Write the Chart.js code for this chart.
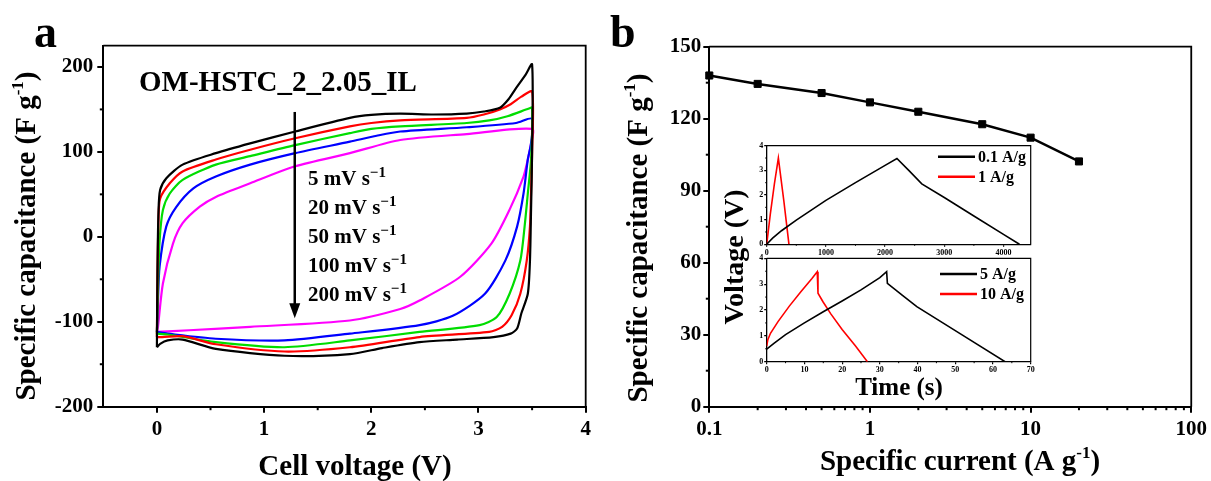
<!DOCTYPE html>
<html>
<head>
<meta charset="utf-8">
<title>CV loops and rate capability</title>
<script src="https://cdn.jsdelivr.net/npm/chart.js@4.4.1/dist/chart.umd.min.js"></script>
<style>
  html, body { margin: 0; padding: 0; background: #fff; }
  #wrap { position: relative; width: 1211px; height: 481px; overflow: hidden; background: #fff; }
  #wrap canvas { position: absolute; }
</style>
</head>
<body>
<div id="wrap">
  <canvas id="cvChart" width="600" height="481" style="left:0;top:0"></canvas>
  <canvas id="rateChart" width="611" height="481" style="left:600px;top:0"></canvas>
  <canvas id="gcdSlow" width="300" height="122" style="left:740px;top:135px"></canvas>
  <canvas id="gcdFast" width="300" height="125" style="left:740px;top:250px"></canvas>
</div>
<script>
// ---- panel a: CV loops (cell voltage in V, specific capacitance in F/g) ----
const scanRates = ['5', '20', '50', '100', '200'];

const cv5V = [0, 0.005, 0.015, 0.03, 0.088, 0.24, 0.55, 0.87, 1.29, 1.8, 2.0, 2.27, 2.58, 2.89, 3.05, 3.2, 3.28, 3.35, 3.44, 3.5,
  3.5, 3.49, 3.48, 3.46, 3.4, 3.36, 3.3, 3.14, 2.8, 2.45, 2.1, 1.8, 1.19, 0.55, 0.24, 0.1, 0.03, 0];
const cv5C = [-130, -40, 30, 55, 69, 85, 98.5, 110, 124, 140, 143.5, 145, 144, 145, 147.5, 152, 162, 175, 191, 203,
  100, 30, -28, -67, -90, -108, -114, -118, -121, -124, -131, -138, -140, -132, -121, -122, -126, -130];

const cv20V = [0, 0.005, 0.015, 0.03, 0.12, 0.24, 0.55, 0.87, 1.29, 1.8, 2.0, 2.27, 2.89, 3.05, 3.2, 3.3, 3.4, 3.5,
  3.5, 3.49, 3.48, 3.45, 3.39, 3.31, 3.22, 3.1, 2.45, 1.8, 1.19, 0.55, 0.24, 0.05, 0];
const cv20C = [-118, -50, 20, 45, 63, 77, 91, 102.5, 116, 130, 134, 137, 140, 144, 150, 156, 165, 171,
  100, 52, 12, -28, -67, -92, -106, -112, -118, -130, -135, -126.5, -117, -118, -118];

const cv50V = [0, 0.01, 0.025, 0.056, 0.12, 0.24, 0.55, 0.87, 1.29, 1.8, 2.0, 2.27, 2.89, 3.1, 3.27, 3.47, 3.5,
  3.49, 3.46, 3.43, 3.39, 3.29, 3.17, 3.01, 2.45, 1.8, 1.19, 0.55, 0.1, 0];
const cv50C = [-114, -60, -5, 31.5, 51, 67, 85, 95, 108, 122, 127, 130, 134, 137, 142, 151, 152,
  91, 51, 12, -28, -67, -94.5, -104, -112, -122, -130, -124, -115, -114];

const cv100V = [0, 0.01, 0.025, 0.087, 0.18, 0.34, 0.55, 0.87, 1.29, 1.8, 2.05, 2.27, 2.89, 3.35, 3.5,
  3.49, 3.46, 3.42, 3.36, 3.25, 3.06, 2.76, 2.45, 1.8, 1.19, 0.55, 0.1, 0];
const cv100C = [-112, -75, -35, 12, 35, 57, 71, 85, 98.5, 112, 119, 124, 129, 134, 139,
  110, 91, 51, 12, -28, -67, -93, -104, -114, -122, -120, -114, -112];

const cv200V = [0, 0.01, 0.056, 0.15, 0.24, 0.4, 0.55, 0.87, 1.29, 1.8, 2.27, 2.89, 3.5,
  3.49, 3.46, 3.42, 3.29, 3.12, 2.83, 2.45, 2.27, 1.8, 0.87, 0.3, 0];
const cv200C = [-112, -106, -55, -8, 16, 35.5, 47, 63, 83, 98.5, 114, 121, 127,
  110, 91, 71, 32, -8, -47, -75, -85, -98.5, -106, -110, -112];

const voltTicks = [0, 1, 2, 3, 4];
const voltMinor = [0.5, 1.5, 2.5, 3.5];
const capTicksA = [-200, -100, 0, 100, 200];
const capMinorA = [-150, -50, 50, 150];

// ---- panel b: rate capability ----
const currents = [0.1, 0.2, 0.5, 1, 2, 5, 10, 20];
const capacitance = [138, 134.5, 130.7, 126.8, 122.9, 117.7, 112.1, 102.2];
const currentTicks = [0.1, 1, 10, 100];
const currentMinor = [0.2, 0.3, 0.4, 0.5, 0.6, 0.7, 0.8, 0.9, 2, 3, 4, 5, 6, 7, 8, 9, 20, 30, 40, 50, 60, 70, 80, 90];
const capTicksB = [0, 30, 60, 90, 120, 150];
const capMinorB = [15, 45, 75, 105, 135];

// ---- inset: charge/discharge curves (time in s, voltage in V) ----
const t01 = [0, 100, 250, 500, 1000, 1500, 2000, 2200, 2400, 2620, 3000, 3500, 4000, 4270];
const v01 = [0, 0.25, 0.55, 0.98, 1.78, 2.5, 3.2, 3.48, 3.0, 2.45, 1.9, 1.15, 0.4, 0];
const t1 = [0, 60, 130, 197, 290, 376];
const v1 = [0, 1.2, 2.45, 3.5, 1.75, 0];
const t5 = [0, 2, 5, 10, 15, 20, 25, 30, 31.8, 32, 36, 39.8, 50, 63.2];
const v5 = [0.49, 0.72, 1.05, 1.5, 1.93, 2.35, 2.78, 3.25, 3.48, 3.03, 2.57, 2.13, 1.2, 0];
const t10 = [0, 0.3, 1, 3, 6, 9, 12, 13.4, 13.6, 15, 17, 20, 23.5, 26.7];
const v10 = [0.6, 0.85, 1.1, 1.55, 2.15, 2.7, 3.22, 3.48, 2.65, 2.3, 1.85, 1.25, 0.62, 0];
const slowTimeTicks = [0, 1000, 2000, 3000, 4000];
const fastTimeTicks = [0, 10, 20, 30, 40, 50, 60, 70];
const insetVoltTicks = [0, 1, 2, 3, 4];

const SERIF = '"Liberation Serif", "Times New Roman", serif';
const cvColors = ['#000000', '#ff0000', '#00dd00', '#0000ff', '#ff00ff'];

const toPoints = (xs, ys) => xs.map((x, i) => ({ x: x, y: ys[i] }));
const fixedTicks = (vals) => (scale) => { scale.ticks = vals.map(v => ({ value: v })); };

// text with an optional raised part, e.g. "F g" + "-1"
function drawRich(ctx, item) {
  const size = item.size;
  const mainFont = `bold ${size}px ${SERIF}`;
  const supFont = `bold ${Math.round(size * (item.supScale || 0.58))}px ${SERIF}`;
  let total = 0;
  const widths = item.parts.map(p => {
    ctx.font = p.sup ? supFont : mainFont;
    const w = ctx.measureText(p.t).width;
    total += w;
    return w;
  });
  ctx.save();
  ctx.translate(item.x, item.y);
  if (item.rotate) ctx.rotate(item.rotate);
  let x = item.align === 'center' ? -total / 2 : 0;
  ctx.fillStyle = '#000';
  ctx.textAlign = 'left';
  ctx.textBaseline = item.baseline || 'alphabetic';
  item.parts.forEach((p, i) => {
    ctx.font = p.sup ? supFont : mainFont;
    ctx.fillText(p.t, x, p.sup ? -size * (item.supRaise || 0.42) : 0);
    x += widths[i];
  });
  ctx.restore();
}

// top/right frame lines, minor ticks, free text and legend keys
const decorations = {
  id: 'decorations',
  afterDraw(chart, args, opts) {
    const { ctx, chartArea: a, scales } = chart;
    ctx.save();
    ctx.strokeStyle = '#000';
    ctx.lineWidth = opts.frameWidth;
    ctx.beginPath();
    ctx.moveTo(a.left, a.top);
    ctx.lineTo(a.right, a.top);
    ctx.lineTo(a.right, a.bottom);
    ctx.stroke();
    ctx.lineWidth = opts.minorWidth;
    (opts.xMinor || []).forEach(v => {
      const px = scales.x.getPixelForValue(v);
      ctx.beginPath();
      ctx.moveTo(px, a.bottom);
      ctx.lineTo(px, a.bottom + opts.minorLen);
      ctx.stroke();
    });
    (opts.yMinor || []).forEach(v => {
      const py = scales.y.getPixelForValue(v);
      ctx.beginPath();
      ctx.moveTo(a.left, py);
      ctx.lineTo(a.left - opts.minorLen, py);
      ctx.stroke();
    });
    (opts.keys || []).forEach(k => {
      ctx.strokeStyle = k.color;
      ctx.lineWidth = 2.5;
      ctx.beginPath();
      ctx.moveTo(k.x1, k.y);
      ctx.lineTo(k.x2, k.y);
      ctx.stroke();
      ctx.fillStyle = '#000';
      ctx.font = `bold ${k.size}px ${SERIF}`;
      ctx.textBaseline = 'middle';
      ctx.textAlign = 'left';
      ctx.fillText(k.label, k.x2 + 3, k.y + 1);
    });
    if (opts.arrow) {
      const ar = opts.arrow;
      const x = scales.x.getPixelForValue(ar.x);
      const y0 = scales.y.getPixelForValue(ar.from);
      const y1 = scales.y.getPixelForValue(ar.to);
      ctx.strokeStyle = '#000';
      ctx.fillStyle = '#000';
      ctx.lineWidth = 2.5;
      ctx.beginPath();
      ctx.moveTo(x, y0);
      ctx.lineTo(x, y1 - 12);
      ctx.stroke();
      ctx.beginPath();
      ctx.moveTo(x - 5.5, y1 - 15);
      ctx.lineTo(x + 5.5, y1 - 15);
      ctx.lineTo(x, y1);
      ctx.closePath();
      ctx.fill();
    }
    ctx.restore();
    (opts.texts || []).forEach(t => drawRich(ctx, t));
  }
};

const axisStyle = (tickLen, pad, size) => ({
  grid: { drawOnChartArea: false, drawTicks: true, tickLength: tickLen, color: '#000', lineWidth: tickLen > 3 ? 2 : 1.2 },
  border: { display: true, color: '#000', width: tickLen > 3 ? 2 : 1.3 },
  ticks: { color: '#000', padding: pad, font: { family: SERIF, size: size, weight: 'bold' },
    callback: (v) => String(v) }
});

// ---- panel a ----
const cvSeries = [[cv5V, cv5C], [cv20V, cv20C], [cv50V, cv50C], [cv100V, cv100C], [cv200V, cv200C]];

new Chart(document.getElementById('cvChart'), {
  type: 'scatter',
  data: {
    datasets: cvSeries.map((s, i) => ({
      label: scanRates[i] + ' mV s-1',
      data: toPoints(s[0], s[1]),
      showLine: true,
      borderColor: cvColors[i],
      backgroundColor: cvColors[i],
      borderWidth: 2.2,
      pointRadius: 0,
      tension: 0.25,
      fill: false
    }))
  },
  options: {
    responsive: false,
    animation: false,
    events: [],
    layout: { padding: { top: 45.7, right: 14.3, left: 0, bottom: 0 } },
    plugins: {
      legend: { display: false },
      tooltip: { enabled: false },
      decorations: {
        frameWidth: 1.8, minorWidth: 2, minorLen: 3.5,
        xMinor: voltMinor, yMinor: capMinorA,
        arrow: { x: 1.286, from: 147, to: -96 },
        texts: [
          { parts: [{ t: 'a' }], x: 34, y: 47, size: 46 },
          { parts: [{ t: 'OM-HSTC_2_2.05_IL' }], x: 139, y: 91, size: 29 },
          ...scanRates.map((r, i) => ({
            parts: [{ t: r + ' mV s' }, { t: '\u22121', sup: true }],
            x: 308, y: 185 + i * 29, size: 21, supScale: 0.72, supRaise: 0.38
          })),
          { parts: [{ t: 'Specific capacitance (F g' }, { t: '-1', sup: true }, { t: ')' }],
            x: 35, y: 236, size: 29, align: 'center', rotate: -Math.PI / 2 },
          { parts: [{ t: 'Cell voltage (V)' }], x: 355, y: 475, size: 29, align: 'center' }
        ]
      }
    },
    scales: {
      x: {
        type: 'linear', min: -0.5, max: 4,
        afterBuildTicks: fixedTicks(voltTicks),
        afterFit: (s) => { s.height = 74.3; },
        ...axisStyle(6, 4, 21)
      },
      y: {
        type: 'linear', min: -200, max: 225,
        afterBuildTicks: fixedTicks(capTicksA),
        afterFit: (s) => { s.width = 103.3; },
        ...axisStyle(6, 4, 21)
      }
    }
  },
  plugins: [decorations]
});

// ---- panel b ----
new Chart(document.getElementById('rateChart'), {
  type: 'line',
  data: {
    datasets: [{
      data: toPoints(currents, capacitance),
      borderColor: '#000',
      backgroundColor: '#000',
      borderWidth: 2.5,
      pointStyle: 'rect',
      pointRadius: 5,
      pointBorderWidth: 1,
      tension: 0,
      clip: false
    }]
  },
  options: {
    responsive: false,
    animation: false,
    events: [],
    layout: { padding: { top: 46.7, right: 19.3, left: 0, bottom: 0 } },
    plugins: {
      legend: { display: false },
      tooltip: { enabled: false },
      decorations: {
        frameWidth: 1.8, minorWidth: 2, minorLen: 3.5,
        xMinor: currentMinor, yMinor: capMinorB,
        texts: [
          { parts: [{ t: 'b' }], x: 10, y: 47, size: 46 },
          { parts: [{ t: 'Specific capacitance (F g' }, { t: '-1', sup: true }, { t: ')' }],
            x: 47, y: 238, size: 29, align: 'center', rotate: -Math.PI / 2 },
          { parts: [{ t: 'Specific current (A g' }, { t: '-1', sup: true }, { t: ')' }],
            x: 360, y: 470, size: 29, align: 'center' },
          { parts: [{ t: 'Voltage (V)' }], x: 143, y: 257, size: 28, align: 'center', rotate: -Math.PI / 2 },
          { parts: [{ t: 'Time (s)' }], x: 299, y: 395, size: 25, align: 'center' }
        ]
      }
    },
    scales: {
      x: {
        type: 'logarithmic', min: 0.1, max: 100,
        afterBuildTicks: fixedTicks(currentTicks),
        afterFit: (s) => { s.height = 74.3; },
        ...axisStyle(6, 4, 21)
      },
      y: {
        type: 'linear', min: 0, max: 150,
        afterBuildTicks: fixedTicks(capTicksB),
        afterFit: (s) => { s.width = 109.3; },
        ...axisStyle(6, 2, 21)
      }
    }
  },
  plugins: [decorations]
});

// ---- inset charts ----
function insetChart(id, series, timeMax, timeTicks, timeMinor, padTop, xHeight, keys) {
  return new Chart(document.getElementById(id), {
    type: 'scatter',
    data: {
      datasets: series.map(s => ({
        data: toPoints(s.t, s.v),
        showLine: true,
        borderColor: s.color,
        borderWidth: 1.6,
        pointRadius: 0,
        tension: 0
      }))
    },
    options: {
      responsive: false,
      animation: false,
      events: [],
      layout: { padding: { top: padTop, right: 9.3, left: 0, bottom: 0 } },
      plugins: {
        legend: { display: false },
        tooltip: { enabled: false },
        decorations: {
          frameWidth: 1.2, minorWidth: 1, minorLen: 1.5,
          xMinor: timeMinor, yMinor: [0.5, 1.5, 2.5, 3.5],
          keys: keys
        }
      },
      scales: {
        x: {
          type: 'linear', min: 0, max: timeMax,
          afterBuildTicks: fixedTicks(timeTicks),
          afterFit: (s) => { s.height = xHeight; },
          ...axisStyle(2.5, 1, 8)
        },
        y: {
          type: 'linear', min: 0, max: 4,
          afterBuildTicks: fixedTicks(insetVoltTicks),
          afterFit: (s) => { s.width = 26.7; },
          ...axisStyle(2.5, 1, 8)
        }
      }
    },
    plugins: [decorations]
  });
}

insetChart('gcdSlow',
  [{ t: t01, v: v01, color: '#000' }, { t: t1, v: v1, color: '#ff0000' }],
  4460, slowTimeTicks, [500, 1500, 2500, 3500], 10.7, 12.7,
  [{ label: '0.1 A/g', color: '#000', x1: 198, x2: 235, y: 21.7, size: 16 },
   { label: '1 A/g', color: '#ff0000', x1: 198, x2: 235, y: 41.7, size: 16 }]);

insetChart('gcdFast',
  [{ t: t5, v: v5, color: '#000' }, { t: t10, v: v10, color: '#ff0000' }],
  70, fastTimeTicks, [5, 15, 25, 35, 45, 55, 65], 8.3, 13.3,
  [{ label: '5 A/g', color: '#000', x1: 200, x2: 237, y: 24, size: 16 },
   { label: '10 A/g', color: '#ff0000', x1: 200, x2: 237, y: 44, size: 16 }]);
</script>
</body>
</html>
